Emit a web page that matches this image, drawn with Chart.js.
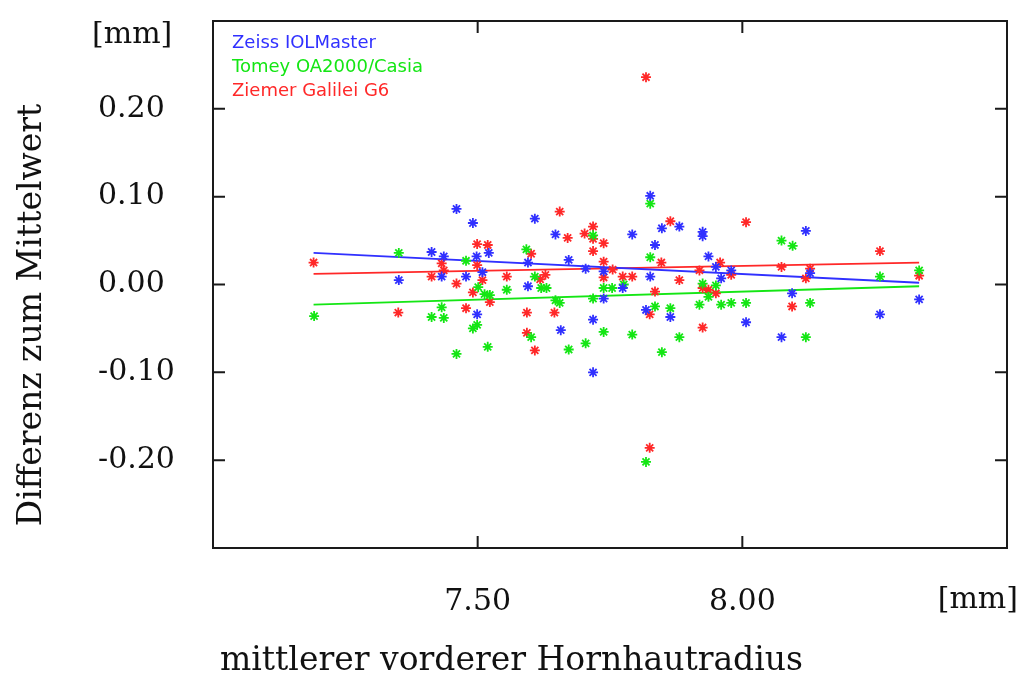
<!DOCTYPE html>
<html>
<head>
<meta charset="utf-8">
<script src="https://cdn.jsdelivr.net/npm/chart.js@4.4.0/dist/chart.umd.min.js"></script>
<style>
  html, body { margin: 0; padding: 0; background: #fff; }
</style>
</head>
<body>
<canvas id="chart" width="1021" height="673"></canvas>
<script>
// Werte
const seriesNames = ['Zeiss IOLMaster', 'Tomey OA2000/Casia', 'Ziemer Galilei G6'];

const zeissX = [7.351, 7.413, 7.436, 7.432, 7.460, 7.491, 7.498, 7.478, 7.499, 7.521, 7.509, 7.608, 7.647, 7.595, 7.595,
  7.672, 7.704, 7.738, 7.774, 7.738, 7.718, 7.657, 7.718, 7.792, 7.826, 7.848, 7.881, 7.835, 7.826, 7.818, 7.864,
  7.925, 7.925, 7.936, 7.950, 7.979, 7.960, 8.007, 8.120, 8.128, 8.094, 8.074, 8.260, 8.334];
const zeissY = [0.005, 0.037, 0.032, 0.009, 0.086, 0.070, 0.032, 0.009, -0.034, 0.036, 0.014, 0.075, 0.057, 0.025, -0.002,
  0.028, 0.018, 0.015, -0.004, -0.016, -0.040, -0.052, -0.100, 0.057, 0.101, 0.064, 0.066, 0.045, 0.009, -0.029, -0.037,
  0.060, 0.055, 0.032, 0.020, 0.016, 0.007, -0.043, 0.061, 0.013, -0.010, -0.060, -0.034, -0.017];

const tomeyX = [7.191, 7.351, 7.432, 7.413, 7.436, 7.478, 7.501, 7.491, 7.499, 7.460, 7.513, 7.523, 7.519, 7.555, 7.592,
  7.608, 7.620, 7.630, 7.647, 7.655, 7.601, 7.672, 7.704, 7.718, 7.718, 7.738, 7.754, 7.738, 7.776, 7.792, 7.826,
  7.826, 7.835, 7.864, 7.881, 7.848, 7.925, 7.950, 7.936, 7.919, 7.960, 7.979, 8.007, 8.074, 8.095, 8.128, 8.120,
  8.260, 8.334, 7.818];
const tomeyY = [-0.036, 0.036, -0.026, -0.037, -0.038, 0.027, -0.003, -0.050, -0.046, -0.079, -0.011, -0.012, -0.071, -0.006, 0.040,
  0.009, -0.004, -0.004, -0.018, -0.021, -0.060, -0.074, -0.067, 0.056, -0.016, -0.004, -0.004, -0.054, 0.000, -0.057, 0.092,
  0.031, -0.025, -0.027, -0.060, -0.077, 0.001, -0.001, -0.014, -0.023, -0.023, -0.021, -0.021, 0.050, 0.044, -0.021, -0.060,
  0.009, 0.016, -0.202];

const ziemerX = [7.190, 7.350, 7.432, 7.436, 7.413, 7.460, 7.499, 7.519, 7.499, 7.509, 7.491, 7.478, 7.523, 7.555, 7.655,
  7.670, 7.702, 7.718, 7.718, 7.738, 7.718, 7.601, 7.738, 7.755, 7.738, 7.628, 7.618, 7.774, 7.792, 7.593, 7.645,
  7.593, 7.608, 7.864, 7.847, 7.881, 7.835, 7.825, 7.958, 7.919, 7.979, 7.925, 7.936, 7.950, 7.925, 8.007, 8.074,
  8.128, 8.120, 8.094, 8.260, 8.334, 7.818, 7.825];
const ziemerY = [0.025, -0.032, 0.024, 0.016, 0.009, 0.001, 0.046, 0.045, 0.022, 0.005, -0.009, -0.027, -0.020, 0.009, 0.083,
  0.053, 0.058, 0.066, 0.052, 0.047, 0.038, 0.035, 0.026, 0.017, 0.008, 0.011, 0.006, 0.009, 0.009, -0.032, -0.032,
  -0.055, -0.075, 0.072, 0.025, 0.005, -0.008, -0.034, 0.025, 0.016, 0.011, -0.004, -0.006, -0.010, -0.049, 0.071, 0.020,
  0.018, 0.007, -0.025, 0.038, 0.010, 0.236, -0.186];

// Regressionsgeraden (Endpunkte)
const fitX = [7.19, 8.334];
const zeissFitY = [0.036, 0.002];
const tomeyFitY = [-0.023, -0.002];
const ziemerFitY = [0.012, 0.025];

const xTicks = [7.5, 8.0];
const yTicks = [-0.2, -0.1, 0.0, 0.1, 0.2];

const colors = ['rgb(48,48,255)', 'rgb(20,230,20)', 'rgb(255,40,40)'];

function toPoints(xs, ys) {
  return xs.map((x, i) => ({ x: x, y: ys[i] }));
}

function scatterSet(xs, ys, color) {
  return {
    type: 'scatter',
    data: toPoints(xs, ys),
    pointStyle: 'star',
    radius: 5,
    borderWidth: 1.8,
    borderColor: color,
    backgroundColor: color
  };
}

function fitSet(ys, color) {
  return {
    type: 'line',
    data: toPoints(fitX, ys),
    borderColor: color,
    borderWidth: 1.8,
    pointRadius: 0,
    fill: false
  };
}

const framePlugin = {
  id: 'frame',
  afterDraw(chart) {
    const { ctx, chartArea: a, scales: { x, y } } = chart;
    ctx.save();
    ctx.strokeStyle = '#1a1a1a';
    ctx.lineWidth = 2;
    ctx.strokeRect(a.left, a.top, a.right - a.left, a.bottom - a.top);

    // Ticks nach innen, auf allen Seiten
    const tl = 12;
    ctx.beginPath();
    yTicks.forEach(v => {
      const py = y.getPixelForValue(v);
      ctx.moveTo(a.left, py); ctx.lineTo(a.left + tl, py);
      ctx.moveTo(a.right, py); ctx.lineTo(a.right - tl, py);
    });
    xTicks.forEach(v => {
      const px = x.getPixelForValue(v);
      ctx.moveTo(px, a.bottom); ctx.lineTo(px, a.bottom - tl);
      ctx.moveTo(px, a.top); ctx.lineTo(px, a.top + tl);
    });
    ctx.stroke();

    // Achsentitel und Einheiten
    ctx.fillStyle = '#111';
    ctx.textBaseline = 'middle';
    ctx.font = '33px "DejaVu Serif"';
    ctx.textAlign = 'left';
    ctx.fillText('mittlerer vorderer Hornhautradius', 220, 661);

    ctx.save();
    ctx.translate(32, 315);
    ctx.rotate(-Math.PI / 2);
    ctx.textAlign = 'center';
    ctx.fillText('Differenz zum Mittelwert', 0, 0);
    ctx.restore();

    ctx.font = '30px "DejaVu Serif"';
    ctx.textAlign = 'left';
    ctx.fillText('[mm]', 92, 35);
    ctx.textAlign = 'right';
    ctx.fillText('[mm]', 1018, 600);

    // Legende ohne Symbole
    ctx.font = '18px "DejaVu Sans"';
    ctx.textAlign = 'left';
    seriesNames.forEach((name, i) => {
      ctx.fillStyle = colors[i];
      ctx.fillText(name, 232, 43 + i * 24);
    });
    ctx.restore();
  }
};

new Chart(document.getElementById('chart'), {
  data: {
    datasets: [
      scatterSet(zeissX, zeissY, colors[0]),
      scatterSet(tomeyX, tomeyY, colors[1]),
      scatterSet(ziemerX, ziemerY, colors[2]),
      fitSet(zeissFitY, colors[0]),
      fitSet(tomeyFitY, colors[1]),
      fitSet(ziemerFitY, colors[2])
    ]
  },
  options: {
    responsive: false,
    animation: false,
    layout: { padding: { left: 98, top: 17, right: 14, bottom: 55 } },
    plugins: {
      legend: { display: false },
      tooltip: { enabled: false }
    },
    scales: {
      x: {
        type: 'linear',
        min: 7.0,
        max: 8.5,
        grid: { display: false },
        border: { display: false },
        afterBuildTicks: s => { s.ticks = xTicks.map(v => ({ value: v })); },
        afterFit: s => { s.height = 70; },
        ticks: {
          autoSkip: false,
          maxRotation: 0,
          padding: 28,
          color: '#111',
          font: { family: 'DejaVu Serif', size: 30 },
          callback: v => v.toFixed(2)
        }
      },
      y: {
        type: 'linear',
        min: -0.3,
        max: 0.3,
        grid: { display: false },
        border: { display: false },
        afterBuildTicks: s => { s.ticks = yTicks.map(v => ({ value: v })); },
        afterFit: s => { s.width = 115; },
        ticks: {
          crossAlign: 'far',
          color: '#111',
          font: { family: 'DejaVu Serif', size: 30 },
          callback: v => v.toFixed(2)
        }
      }
    }
  },
  plugins: [framePlugin]
});
</script>
</body>
</html>
